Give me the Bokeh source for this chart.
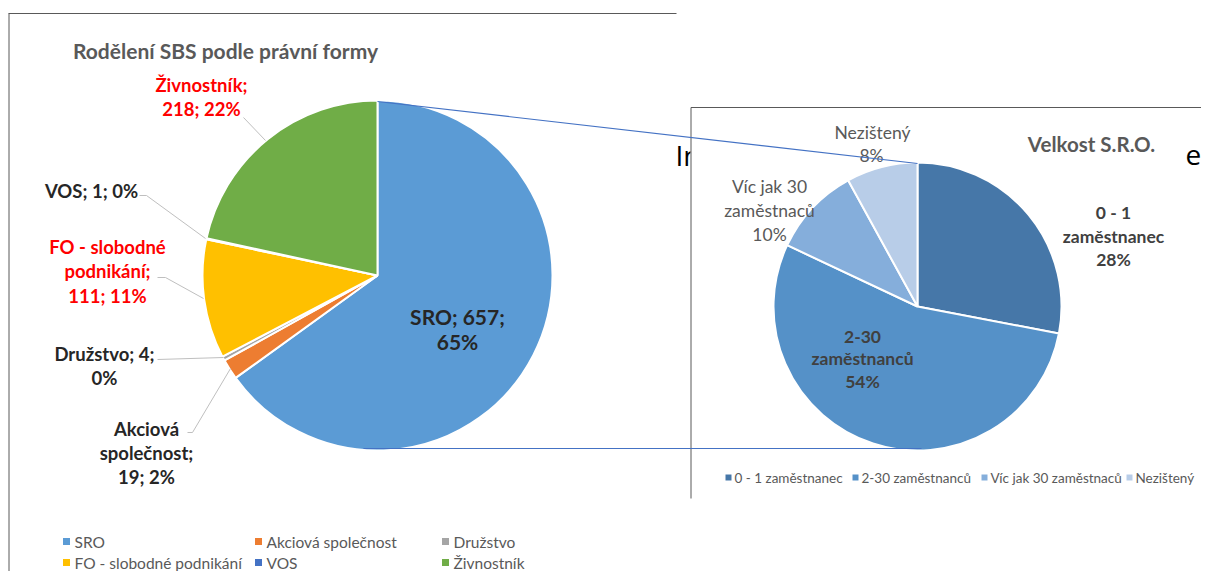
import math
from bokeh.plotting import figure
from bokeh.models import Range1d, ColumnDataSource
from bokeh.core.properties import value
from bokeh.embed import file_html
from bokeh.resources import INLINE

# ---------------- data ----------------
forms = ["SRO", "Akciová společnost", "Družstvo", "FO - slobodné podnikání", "VOS", "Živnostník"]
form_counts = [657, 19, 4, 111, 1, 218]
form_colors = ["#5B9BD5", "#ED7D31", "#A5A5A5", "#FFC000", "#4472C4", "#70AD47"]

sizes = ["0 - 1 zaměstnanec", "2-30 zaměstnanců", "Víc jak 30 zaměstnaců", "Nezištený"]
size_pct = [28, 54, 10, 8]
size_colors = ["#4677A8", "#5591C8", "#85AEDB", "#B8CDE8"]

title_left = "Rodělení SBS podle právní formy"
title_right = "Velkost S.R.O."

# ---------------- layout helpers ----------------
H = 587
def Y(v):
    return H - v

FONT = "Lato"
p = figure(width=1201, height=571, x_range=Range1d(0, 1201), y_range=Range1d(16, 587),
           output_backend="svg", toolbar_location=None, min_border=0,
           x_axis_location=None, y_axis_location=None, outline_line_color=None)
p.xgrid.visible = False
p.ygrid.visible = False

def txt(x, y, s, size, color, bold=False, align="center", font=FONT):
    p.text(x=[x], y=[Y(y)], text=[s], text_font=value(font), text_font_size=value(f"{size}px"),
           text_font_style="bold" if bold else "normal", text_color=color,
           text_align=align, text_baseline="middle")

def wedges(cx, cy, r, vals, colors):
    tot = float(sum(vals))
    c = 0.0
    starts, ends = [], []
    for v in vals:
        c0 = c
        c += v / tot
        starts.append(math.pi / 2 - 2 * math.pi * c)
        ends.append(math.pi / 2 - 2 * math.pi * c0)
    src = ColumnDataSource(dict(start=starts, end=ends, color=colors))
    p.wedge(x=cx, y=Y(cy), radius=r, start_angle="start", end_angle="end", direction="anticlock",
            fill_color="color", line_color="white", line_width=2, source=src)

# background slide text
txt(675, 154, "In", 28, "#000000", align="left", font="Open Sans")
txt(1185, 154, "e", 28, "#000000", align="left", font="Open Sans")

# left chart frame
p.line(x=[8, 676], y=[Y(13), Y(13)], line_color="#595959", line_width=1)
p.line(x=[8.5, 8.5], y=[Y(13), Y(590)], line_color="#595959", line_width=1)

# right chart box
p.quad(left=690, right=1184, top=Y(107), bottom=Y(498), fill_color="white", line_color=None)
p.line(x=[690.5, 1207], y=[Y(107), Y(107)], line_color="#595959", line_width=1)
p.line(x=[690.5, 690.5], y=[Y(107), Y(498)], line_color="#595959", line_width=1)

# left pie
txt(225, 50, title_left, 21, "#595959", bold=True)
wedges(377, 275, 175, form_counts, form_colors)

tot = sum(form_counts)
pct = [round(100 * v / tot) for v in form_counts]

# leader lines
lc = "#BFBFBF"
p.line(x=[243, 265], y=[Y(117), Y(140)], line_color=lc)
p.line(x=[139, 146, 205], y=[Y(195), Y(195), Y(238)], line_color=lc)
p.line(x=[157, 165, 203], y=[Y(277), Y(277), Y(298)], line_color=lc)
p.line(x=[157, 223], y=[Y(359), Y(357)], line_color=lc)
p.line(x=[187, 192, 230], y=[Y(432), Y(432), Y(368)], line_color=lc)

red = "#FF0000"
blk = "#262626"
LS = 18.5
# labels
txt(201, 84, f"{forms[5]};", LS, red, True)
txt(201, 108, f"{form_counts[5]}; {pct[5]}%", LS, red, True)
txt(91, 190, f"{forms[4]}; {form_counts[4]}; {pct[4]}%", LS, blk, True)
txt(107, 246, "FO - slobodné", LS, red, True)
txt(107, 270, "podnikání;", LS, red, True)
txt(107, 295, f"{form_counts[3]}; {pct[3]}%", LS, red, True)
txt(104, 353, f"{forms[2]}; {form_counts[2]};", LS, blk, True)
txt(104, 377, f"{pct[2]}%", LS, blk, True)
txt(146, 428, "Akciová", LS, blk, True)
txt(146, 452, "společnost;", LS, blk, True)
txt(146, 476, f"{form_counts[1]}; {pct[1]}%", LS, blk, True)
txt(457, 316, f"{forms[0]}; {form_counts[0]};", 21, blk, True)
txt(457, 341, f"{pct[0]}%", 21, blk, True)

# left legend (second row nudged up slightly to stay inside the frame)
lx = [66, 258, 445, 66, 258, 445]
ly = [541, 541, 541, 562, 562, 562]
for i, f in enumerate(forms):
    p.rect(x=[lx[i]], y=[Y(ly[i])], width=7, height=7, fill_color=form_colors[i], line_color=None)
    txt(lx[i] + 8, ly[i], f, 15.5, "#595959", align="left")

# right pie
txt(1091, 143, title_right, 20.5, "#595959", bold=True)
wedges(917, 306, 144, size_pct, size_colors)
gc = "#404040"
lg = "#595959"
RS = 17.5
txt(872, 132, sizes[3], RS, lg)
txt(871, 155, f"{size_pct[3]}%", RS, lg)
txt(769, 186, "Víc jak 30", RS, lg)
txt(769, 210, "zaměstnaců", RS, lg)
txt(769, 234, f"{size_pct[2]}%", RS, lg)
txt(1113, 212, "0 - 1", RS, gc, True)
txt(1113, 236, "zaměstnanec", RS, gc, True)
txt(1113, 259, f"{size_pct[0]}%", RS, gc, True)
txt(862, 336, "2-30", RS, gc, True)
txt(862, 358, "zaměstnanců", RS, gc, True)
txt(862, 381, f"{size_pct[1]}%", RS, gc, True)

rx = [728, 855, 984, 1129]
for i, s in enumerate(sizes):
    p.rect(x=[rx[i]], y=[Y(477)], width=6, height=6, fill_color=size_colors[i], line_color=None)
    txt(rx[i] + 6, 477, s, 13.5, lg, align="left")

# connector lines
p.line(x=[377, 917], y=[Y(101), Y(163)], line_color="#4472C4", line_width=1.2)
p.line(x=[363, 921], y=[Y(448), Y(448)], line_color="#4472C4", line_width=1.2)

open("out.html", "w").write(file_html(p, INLINE))
